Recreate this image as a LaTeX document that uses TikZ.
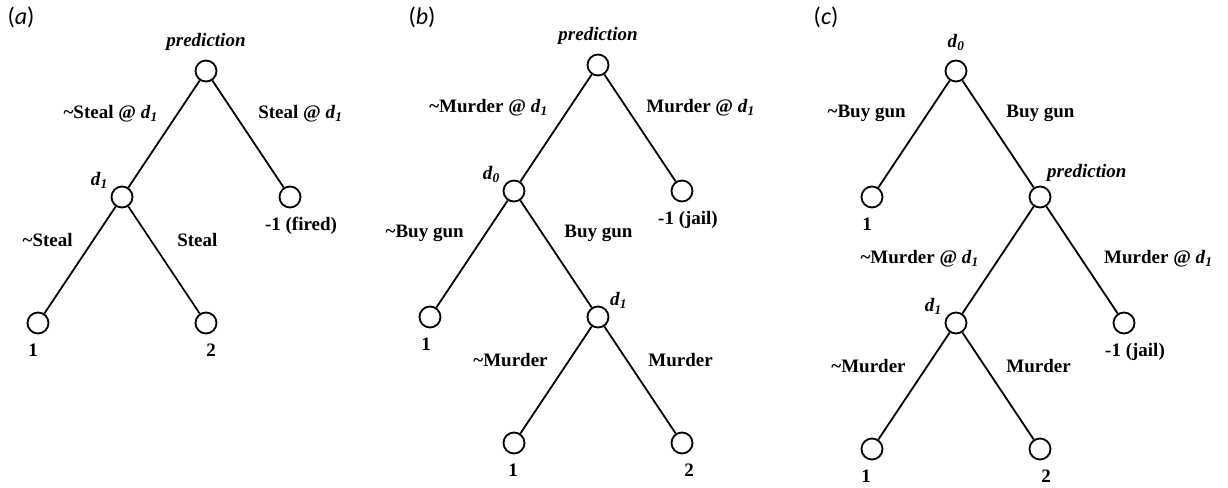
\documentclass[tikz,border=0pt]{standalone}
\usepackage{fontspec}
\setmainfont{Liberation Serif}
\newfontfamily\panelfont{Carlito}
\usetikzlibrary{positioning}
\newcommand{\dvar}[1]{\textit{d}\textsubscript{\textit{#1}}}
\newcommand{\notact}{\textasciitilde}

\begin{document}
\begin{tikzpicture}[x=1pt, y=-1pt, node distance=126pt and 84pt,
  state/.style={circle, draw, line width=1.8pt, minimum size=21pt, inner sep=0pt, on grid},
  tag/.style={font=\fontsize{19}{21}\selectfont\bfseries, inner sep=2pt},
  panel/.style={font=\fontsize{24}{26}\selectfont\panelfont, inner sep=0pt},
  edge/.style={line width=1.8pt},
  every label/.style={font=\fontsize{19}{21}\selectfont\bfseries, inner sep=2pt},
  label distance=7pt]
\useasboundingbox (0,0) rectangle (1228,487);

% (a)
\node[panel] (tagA) at (21,17) {(\textit{a})};
\node[state, label=above:\textit{prediction}] (pa) at (206,71) {};
\node[state, below left=of pa, label distance=0pt, label={[xshift=4pt, yshift=-3pt]150:\dvar{1}}] (da) {};
\node[state, below right=of pa, label={[xshift=11pt]below:-1 (fired)}] (fa) {};
\node[state, below left=of da, label={[xshift=-5pt]below:1}] (a1) {};
\node[state, below right=of da, label={[xshift=5pt]below:2}] (a2) {};
\draw[edge] (pa) -- node[tag, pos=0.31, left=17pt] {\notact Steal @ \dvar{1}} (da);
\draw[edge] (pa) -- node[tag, pos=0.31, right=21pt] {Steal @ \dvar{1}} (fa);
\draw[edge] (da) -- node[tag, pos=0.31, left=18pt] {\notact Steal} (a1);
\draw[edge] (da) -- node[tag, pos=0.31, right=24pt] {Steal} (a2);

% (b)
\node[panel] (tagB) at (422,17) {(\textit{b})};
\node[state, label=above:\textit{prediction}] (pb) at (598,65) {};
\node[state, below left=of pb, label distance=0pt, label={[xshift=4pt, yshift=-3pt]150:\dvar{0}}] (db0) {};
\node[state, below right=of pb, label={[xshift=6pt]below:-1 (jail)}] (jb) {};
\node[state, below left=of db0, label={[xshift=-4pt]below:1}] (b1) {};
\node[state, below right=of db0, label distance=0pt, label={[xshift=-6pt, yshift=-3pt]30:\dvar{1}}] (db1) {};
\node[state, below left=of db1, label={[xshift=-1pt]below:1}] (b2) {};
\node[state, below right=of db1, label={[xshift=7pt]below:2}] (b3) {};
\draw[edge] (pb) -- node[tag, pos=0.31, left=19pt] {\notact Murder @ \dvar{1}} (db0);
\draw[edge] (pb) -- node[tag, pos=0.31, right=17pt] {Murder @ \dvar{1}} (jb);
\draw[edge] (db0) -- node[tag, pos=0.31, left=19pt] {\notact Buy gun} (b1);
\draw[edge] (db0) -- node[tag, pos=0.31, right=19pt] {Buy gun} (db1);
\draw[edge] (db1) -- node[tag, pos=0.31, left=19pt] {\notact Murder} (b2);
\draw[edge] (db1) -- node[tag, pos=0.31, right=19pt] {Murder} (b3);

% (c)
\node[panel] (tagC) at (826,17) {(\textit{c})};
\node[state, label=above:\dvar{0}] (dc0) at (956,71) {};
\node[state, below left=of dc0, label={[xshift=-5pt]below:1}] (c1) {};
\node[state, below right=of dc0, label={[xshift=-8pt]above right:\textit{prediction}}] (pc) {};
\node[state, below left=of pc, label distance=0pt, label={[xshift=4pt, yshift=-3pt]150:\dvar{1}}] (dc1) {};
\node[state, below right=of pc, label={[xshift=11pt]below:-1 (jail)}] (jc) {};
\node[state, below left=of dc1, label={[xshift=-6pt]below:1}] (c2) {};
\node[state, below right=of dc1, label={[xshift=6pt]below:2}] (c3) {};
\draw[edge] (dc0) -- node[tag, pos=0.31, left=19pt] {\notact Buy gun} (c1);
\draw[edge] (dc0) -- node[tag, pos=0.31, right=19pt] {Buy gun} (pc);
\draw[edge] (pc) -- node[tag, pos=0.49, left=17pt] {\notact Murder @ \dvar{1}} (dc1);
\draw[edge] (pc) -- node[tag, pos=0.49, right=20pt] {Murder @ \dvar{1}} (jc);
\draw[edge] (dc1) -- node[tag, pos=0.31, left=19pt] {\notact Murder} (c2);
\draw[edge] (dc1) -- node[tag, pos=0.31, right=19pt] {Murder} (c3);
\end{tikzpicture}
\end{document}
